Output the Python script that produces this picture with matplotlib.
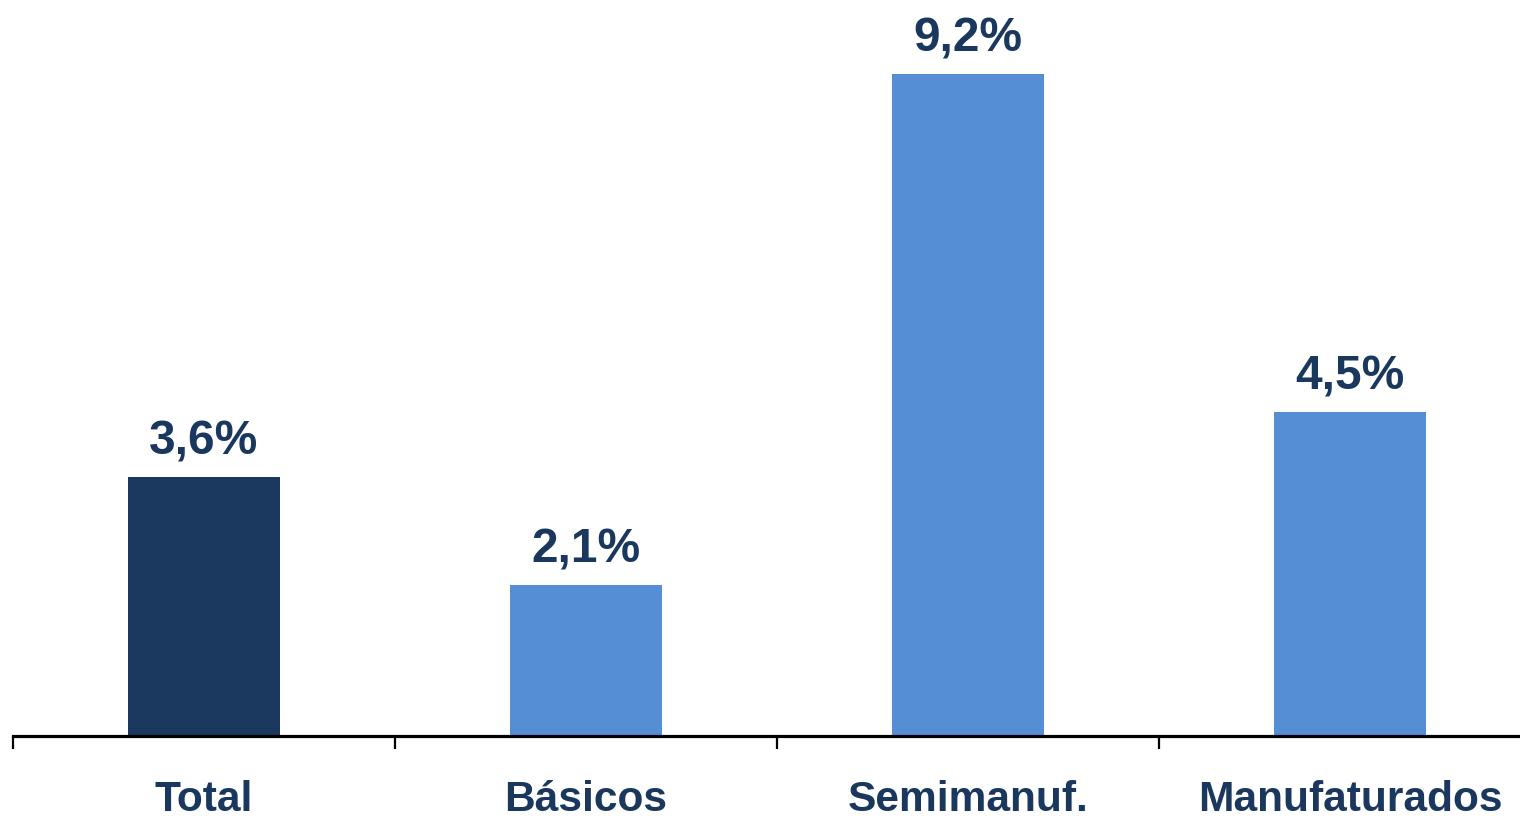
import matplotlib
matplotlib.use("Agg")
import matplotlib.pyplot as plt
import numpy as np

categories = ["Total", "Básicos", "Semimanuf.", "Manufaturados"]
values = [3.6, 2.1, 9.2, 4.5]
value_labels = ["3,6%", "2,1%", "9,2%", "4,5%"]

NAVY = "#1a375d"
BLUE = "#558ed5"
bar_colors = [NAVY, BLUE, BLUE, BLUE]

plt.rcParams["font.family"] = ["Liberation Sans", "DejaVu Sans"]

W, H = 1520, 816
fig = plt.figure(figsize=(W / 100, H / 100), dpi=100)
ax = fig.add_axes([13 / W, 1 - 736 / H, 1 - 13 / W, 736 / H])

x = np.arange(len(categories))
bars = ax.bar(x, values, width=0.4, color=bar_colors, zorder=2)

for xi, v, lab in zip(x, values, value_labels):
    ax.annotate(lab, (xi, v), xytext=(0, 16), textcoords="offset points",
                ha="center", va="baseline", fontsize=34.5, fontweight="bold",
                color=NAVY)

ax.set_xlim(-0.5, -0.5 + (W - 13) / 382)
ax.set_ylim(0, 736 / 72.0)

for side in ["top", "right", "left"]:
    ax.spines[side].set_visible(False)
ax.spines["bottom"].set_linewidth(2.3)
ax.spines["bottom"].set_color("black")
ax.set_yticks([])

ax.set_xticks(x)
ax.set_xticklabels(categories, fontsize=30.6, fontweight="bold", color=NAVY)
ax.tick_params(axis="x", which="major", length=0, pad=32)
ax.set_xticks(np.arange(len(categories)) - 0.5, minor=True)
ax.tick_params(axis="x", which="minor", length=9, width=1.6, color="black",
               direction="out")

fig.savefig("out.png", dpi=100, facecolor="white")
